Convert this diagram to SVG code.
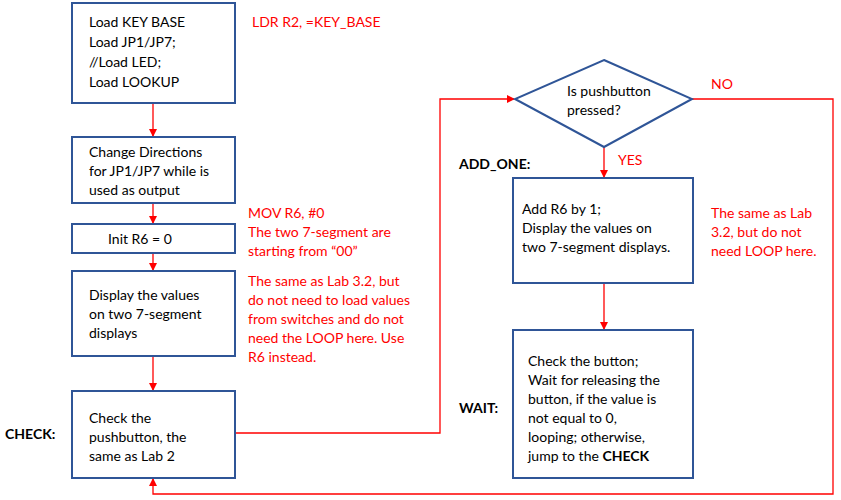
<svg xmlns="http://www.w3.org/2000/svg" width="841" height="500" viewBox="0 0 841 500">
<defs>
<style>
.n{fill:#fff;stroke:#2f5597;stroke-width:2}
.t{font-family:Lato,"Liberation Sans",sans-serif;font-size:14px;fill:#000}
.r{font-family:Lato,"Liberation Sans",sans-serif;font-size:14px;fill:#f00}
.b{font-family:Lato,"Liberation Sans",sans-serif;font-size:14px;font-weight:bold;fill:#000}
.c{fill:none;stroke:#f00;stroke-width:1.3}
</style>
<marker id="a" markerWidth="8" markerHeight="8" refX="7" refY="4" orient="auto" markerUnits="userSpaceOnUse"><path d="M0,0L8,4L0,8z" fill="#f00"/></marker>
</defs>
<rect width="841" height="500" fill="#fff"/>
<g id="connectors">
<path class="c" d="M153,103V136" marker-end="url(#a)"/>
<path class="c" d="M153,203V223" marker-end="url(#a)"/>
<path class="c" d="M153,253V270" marker-end="url(#a)"/>
<path class="c" d="M153,356V390" marker-end="url(#a)"/>
<path class="c" d="M235,433H440V99H514" marker-end="url(#a)"/>
<path class="c" d="M692,99H833V494H153V479" marker-end="url(#a)"/>
<path class="c" d="M604,147V177" marker-end="url(#a)"/>
<path class="c" d="M604,283V329" marker-end="url(#a)"/>
</g>
<g id="n1"><rect class="n" x="72" y="3" width="163" height="100"/>
<text class="t" x="89" y="27">Load KEY BASE</text><text class="t" x="89" y="47">Load JP1/JP7;</text><text class="t" x="89" y="67">//Load LED;</text><text class="t" x="89" y="87">Load LOOKUP</text></g>
<g id="n2"><rect class="n" x="72" y="137" width="163" height="66"/>
<text class="t" x="89" y="157">Change Directions</text><text class="t" x="89" y="176">for JP1/JP7 while is</text><text class="t" x="89" y="195">used as output</text></g>
<g id="n3"><rect class="n" x="72" y="224" width="163" height="29"/>
<text class="t" x="108" y="244">Init R6 = 0</text></g>
<g id="n4"><rect class="n" x="72" y="271" width="163" height="85"/>
<text class="t" x="89" y="300">Display the values</text><text class="t" x="89" y="319">on two 7-segment</text><text class="t" x="89" y="338">displays</text></g>
<g id="n5"><rect class="n" x="72" y="391" width="163" height="87"/>
<text class="t" x="89" y="423">Check the</text><text class="t" x="89" y="442">pushbutton, the</text><text class="t" x="89" y="461">same as Lab 2</text></g>
<g id="d"><path class="n" d="M604,60L692,99L604,147L515,99z"/>
<text class="t" x="567" y="96">Is pushbutton</text><text class="t" x="567" y="115">pressed?</text></g>
<g id="n6"><rect class="n" x="513" y="178" width="180" height="105"/>
<text class="t" x="522" y="214">Add R6 by 1;</text><text class="t" x="522" y="233">Display the values on</text><text class="t" x="522" y="252">two 7-segment displays.</text></g>
<g id="n7"><rect class="n" x="513" y="330" width="180" height="148"/>
<text class="t" x="528" y="366">Check the button;</text><text class="t" x="528" y="385">Wait for releasing the</text><text class="t" x="528" y="404">button, if  the value is</text><text class="t" x="528" y="423">not equal to 0,</text><text class="t" x="528" y="442">looping; otherwise,</text><text class="t" x="528" y="461">jump to the <tspan font-weight="bold">CHECK</tspan></text></g>
<g id="labels">
<text class="r" x="252" y="27">LDR R2, =KEY_BASE</text>
<text class="r" x="248" y="218">MOV R6, #0</text>
<text class="r" x="248" y="237">The two 7-segment are</text>
<text class="r" x="248" y="256">starting from “00”</text>
<text class="r" x="248" y="286">The same as Lab 3.2, but</text>
<text class="r" x="248" y="305">do not need to load values</text>
<text class="r" x="248" y="324">from switches and do not</text>
<text class="r" x="248" y="343">need the LOOP here. Use</text>
<text class="r" x="248" y="362">R6 instead.</text>
<text class="r" x="711" y="89">NO</text>
<text class="r" x="618" y="165">YES</text>
<text class="r" x="711" y="218">The same as Lab</text>
<text class="r" x="711" y="237">3.2, but do not</text>
<text class="r" x="711" y="256">need LOOP here.</text>
<text class="b" x="459" y="169">ADD_ONE:</text>
<text class="b" x="459" y="413">WAIT:</text>
<text class="b" x="5" y="439">CHECK:</text>
</g>
</svg>
